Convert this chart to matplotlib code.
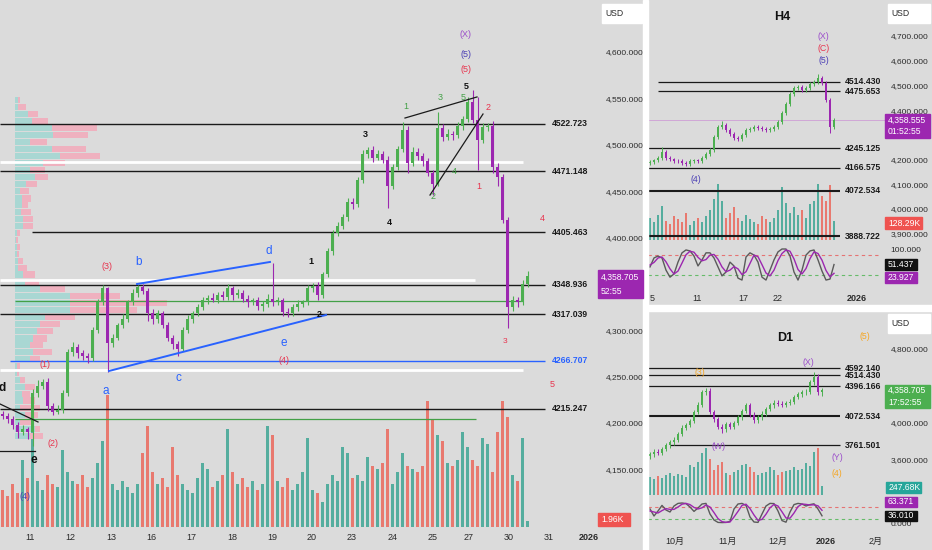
import numpy as np
import matplotlib
matplotlib.use("Agg")
import matplotlib.pyplot as plt
from matplotlib.patches import Rectangle

plt.rcParams['font.family'] = ['Liberation Sans', 'Noto Sans CJK JP', 'DejaVu Sans']

# ------------------------------------------------------------------ DATA
# main chart (XAUUSD ~1h) candles
main_open0 = 4210
main_close = [4207, 4204, 4198, 4190, 4193, 4190, 4232, 4240, 4244, 4218,
              4212, 4214, 4232, 4276, 4282, 4275, 4272, 4270, 4300, 4330,
              4345, 4286, 4292, 4305, 4312, 4330, 4340, 4346, 4342, 4318,
              4312, 4318, 4305, 4292, 4285, 4280, 4300, 4312, 4318, 4325,
              4332, 4335, 4333, 4338, 4336, 4345, 4338, 4340, 4334, 4330,
              4332, 4326, 4328, 4334, 4330, 4332, 4320, 4318, 4325, 4328,
              4330, 4345, 4348, 4338, 4360, 4385, 4405, 4412, 4422, 4438,
              4436, 4462, 4490, 4494, 4486, 4490, 4484, 4455, 4476, 4495,
              4516, 4480, 4492, 4488, 4482, 4470, 4458, 4518, 4508, 4512,
              4510, 4520, 4528, 4546, 4527, 4505, 4519, 4520, 4476, 4465,
              4419, 4325, 4332, 4330, 4350, 4358.705]
main_wick_up = [3, 4, 3, 3, 5, 3, 4, 6, 3, 4, 3, 5, 3, 4, 5, 3, 4, 3, 3, 4,
                4, 2, 4, 3, 5, 3, 4, 3, 4, 3, 5, 4, 3, 4, 3, 3, 3, 4, 3, 3,
                4, 3, 5, 3, 4, 5, 3, 4, 3, 4, 3, 4, 3, 5, 38, 4, 3, 4, 3, 4,
                3, 4, 3, 4, 3, 4, 3, 5, 3, 4, 5, 3, 4, 4, 5, 4, 3, 4, 3, 4,
                8, 4, 5, 4, 3, 4, 3, 17, 4, 5, 3, 4, 3, 5, 13, 24, 4, 3, 6, 4,
                3, 3, 5, 4, 4, 5]
main_wick_dn = [3, 4, 5, 6, 3, 8, 15, 4, 3, 5, 4, 3, 3, 3, 4, 5, 4, 6, 3, 3,
                3, 31, 4, 3, 3, 3, 3, 4, 3, 8, 5, 4, 3, 4, 5, 8, 3, 3, 4, 3,
                3, 4, 3, 4, 3, 3, 5, 3, 4, 5, 3, 4, 5, 3, 4, 3, 5, 4, 3, 4,
                3, 3, 4, 5, 3, 3, 4, 3, 3, 4, 5, 3, 3, 4, 5, 3, 4, 23, 3, 3,
                3, 10, 3, 4, 5, 4, 12, 3, 4, 3, 5, 3, 4, 3, 4, 32, 3, 4, 6, 10,
                4, 23, 4, 5, 3, 3]
main_volume = [12, 10, 14, 11, 22, 16, 33, 15, 12, 17, 14, 13, 25, 18, 15, 14,
               17, 13, 16, 21, 28, 43, 14, 12, 15, 13, 11, 14, 24, 33, 18, 14,
               16, 13, 26, 17, 14, 12, 11, 16, 21, 19, 13, 15, 17, 32, 18, 14,
               16, 13, 15, 12, 14, 33, 30, 15, 13, 16, 12, 14, 18, 29, 12, 11,
               8, 14, 17, 15, 26, 24, 16, 17, 15, 23, 20, 19, 21, 32, 14, 18,
               24, 20, 19, 18, 20, 41, 35, 30, 28, 21, 20, 22, 31, 26, 22, 20,
               29, 27, 18, 31, 41, 36, 17, 15, 29, 1.96]
main_tick_labels = ['11', '12', '13', '16', '17', '18', '19', '20', '23', '24',
                    '25', '27', '30', '31', '2026']
main_yticks = [4600, 4550, 4500, 4450, 4400, 4300, 4250, 4200, 4150]
main_levels = [4522.723, 4471.148, 4405.463, 4348.936, 4317.039, 4266.707, 4215.247]
white_levels = [4481, 4354, 4257]
green_levels = [4331, 4204]

# volume profile (left)
vp_price = [4548, 4541, 4533, 4526, 4518, 4510, 4503, 4495, 4488, 4480, 4473,
            4465, 4458, 4450, 4442, 4435, 4427, 4420, 4412, 4405, 4397, 4390,
            4382, 4375, 4367, 4360, 4352, 4344, 4337, 4329, 4322, 4314, 4307,
            4299, 4291, 4284, 4276, 4269, 4261, 4254, 4246, 4239, 4231, 4224,
            4216, 4208, 4201, 4193, 4186]
vp_up = [3, 3, 13, 17, 37, 38, 15, 37, 45, 28, 15, 20, 11, 5, 7, 7, 6, 8, 8, 2,
         1, 2, 2, 3, 3, 8, 10, 25, 55, 55, 55, 30, 25, 22, 18, 15, 18, 15, 2, 2,
         5, 10, 7, 8, 5, 10, 5, 20, 15]
vp_dn = [2, 8, 10, 16, 45, 35, 17, 34, 40, 22, 15, 13, 11, 9, 9, 6, 10, 10, 10, 3,
         2, 3, 2, 5, 9, 12, 14, 25, 50, 97, 67, 30, 20, 16, 14, 13, 19, 10, 3, 2,
         5, 10, 8, 12, 20, 13, 13, 5, 13]

# H4 panel
h4_open0 = 4185
h4_close = [4190, 4196, 4205, 4230, 4205, 4200, 4195, 4192, 4186, 4182, 4192,
            4196, 4194, 4208, 4222, 4240, 4290, 4330, 4338, 4320, 4305, 4288,
            4282, 4300, 4318, 4325, 4332, 4328, 4322, 4318, 4325, 4330, 4352,
            4388, 4425, 4465, 4488, 4495, 4482, 4490, 4505, 4515, 4530, 4510,
            4440, 4332, 4358.555]
h4_wick_up = [8, 8, 8, 20, 8, 8, 8, 8, 8, 8, 8, 8, 8, 8, 8, 8, 8, 8, 17, 8, 8, 8,
              8, 8, 8, 8, 8, 8, 8, 8, 8, 8, 8, 8, 8, 8, 8, 8, 8, 8, 8, 8, 18, 8,
              8, 8, 8]
h4_wick_dn = [8, 8, 8, 8, 8, 8, 8, 8, 8, 10, 8, 8, 8, 8, 8, 8, 8, 8, 8, 8, 8, 8,
              8, 8, 8, 8, 8, 8, 8, 8, 8, 8, 8, 8, 8, 8, 8, 8, 8, 8, 8, 8, 8, 8,
              8, 25, 8]
h4_volume = [150, 120, 170, 230, 130, 110, 160, 140, 120, 180, 100, 130, 150,
             120, 160, 200, 280, 380, 260, 150, 180, 220, 150, 130, 170, 140,
             120, 110, 160, 140, 120, 150, 200, 360, 250, 180, 220, 170, 200,
             150, 240, 260, 380, 300, 260, 370, 128.29]
h4_k = [44, 72, 78, 72, 34, 12, 22, 59, 88, 97, 94, 78, 47, 66, 88, 88, 72, 44,
        16, 28, 59, 47, 9, 3, 75, 88, 81, 59, 12, 3, 34, 66, 91, 100, 100, 78, 28,
        3, 34, 81, 94, 97, 66, 31, 3, 6, 51.437]
h4_d = [50, 58, 72, 75, 60, 38, 22, 31, 56, 82, 93, 90, 74, 63, 67, 81, 83, 68,
        44, 29, 34, 45, 38, 20, 29, 55, 81, 76, 51, 25, 16, 34, 64, 86, 97, 93,
        69, 36, 22, 39, 70, 91, 86, 65, 33, 13, 23.927]
h4_tick_labels = ['5', '11', '17', '22', '2026']
h4_yticks = [4700, 4600, 4500, 4400, 4200, 4100, 4000, 3900]
h4_levels = [4514.430, 4475.653, 4245.125, 4166.575, 4072.534, 3888.722]

# D1 panel
d1_open0 = 3640
d1_close = [3660, 3690, 3680, 3720, 3760, 3790, 3820, 3880, 3950, 3980, 4020,
            4120, 4200, 4330, 4350, 4120, 4040, 3960, 3930, 3990, 3960, 4000,
            4060, 4130, 4190, 4090, 4030, 4060, 4100, 4150, 4190, 4220, 4210,
            4200, 4215, 4230, 4280, 4310, 4330, 4340, 4440, 4500, 4330, 4358.705]
d1_wick_up = [25, 25, 25, 25, 25, 25, 25, 25, 25, 25, 25, 25, 25, 25, 30, 25,
              25, 25, 25, 25, 25, 25, 25, 25, 30, 25, 25, 25, 25, 25, 25, 25,
              25, 25, 25, 25, 25, 25, 25, 25, 25, 50, 25, 25]
d1_wick_dn = [25, 25, 25, 25, 25, 25, 25, 25, 25, 25, 25, 25, 25, 25, 25, 25,
              25, 25, 40, 25, 25, 25, 25, 25, 25, 25, 25, 25, 25, 25, 25, 25,
              25, 25, 25, 25, 25, 25, 25, 25, 25, 25, 25, 40]
d1_volume = [500, 450, 520, 480, 560, 600, 520, 580, 540, 500, 820, 780, 900,
             1150, 1300, 1000, 700, 820, 900, 600, 560, 620, 700, 820, 850, 780,
             620, 560, 600, 640, 780, 700, 560, 620, 650, 700, 760, 680, 720,
             880, 800, 1180, 1300, 247.68]
d1_k = [70, 35, 60, 88, 65, 55, 85, 98, 100, 97, 80, 58, 75, 95, 98, 45, 15, 3,
        2, 3, 8, 70, 95, 98, 88, 30, 5, 3, 45, 85, 98, 97, 60, 12, 4, 55, 92, 98,
        95, 85, 92, 96, 70, 36.010]
d1_d = [60, 55, 50, 62, 72, 68, 68, 80, 94, 98, 92, 78, 70, 76, 90, 80, 52, 22,
        7, 3, 5, 30, 58, 88, 94, 72, 40, 13, 18, 44, 76, 93, 85, 56, 25, 24, 50,
        82, 95, 93, 90, 91, 86, 63.371]
d1_tick_labels = ['10月', '11月', '12月', '2026', '2月']
d1_yticks = [4800, 4000, 3600]
d1_levels = [4592.140, 4514.430, 4396.166, 4072.534, 3761.501]

# ------------------------------------------------------------------ STYLE
W, H = 932, 550
BG = '#dbdbdb'
UP, DN = '#4caf50', '#9c27b0'
VUP, VDN = '#55ad9e', '#e8796f'
RED, BLUE, GRN = '#e8344e', '#2962ff', '#43a047'
PUR, IND, ORG = '#9b4dca', '#4b3fb5', '#f5a623'
TXT = '#2b2b2b'
TFS = 6.0

fig = plt.figure(figsize=(W / 100, H / 100), dpi=100)
fig.patch.set_facecolor(BG)


def px_axes(x0, y0, x1, y1):
    a = fig.add_axes([x0 / W, 1 - y1 / H, (x1 - x0) / W, (y1 - y0) / H])
    a.set_facecolor('none')
    for s in a.spines.values():
        s.set_visible(False)
    a.set_xticks([])
    a.set_yticks([])
    return a


def candles(a, close, open0, wup, wdn, width, lw):
    c = np.array(close, float)
    o = np.array([open0] + list(close[:-1]), float)
    x = np.arange(len(c))
    hi = np.maximum(o, c) + np.array(wup)
    lo = np.minimum(o, c) - np.array(wdn)
    cols = [UP if cc >= oo else DN for oo, cc in zip(o, c)]
    a.vlines(x, lo, hi, colors=cols, lw=lw, zorder=3)
    body = np.maximum(np.abs(c - o), 0.0001 * c)
    a.bar(x, body, bottom=np.minimum(o, c), width=width, color=cols, zorder=3, linewidth=0)
    return x, o, c


def vol_bars(a, x, o, c, vol, width):
    cols = [VUP if cc >= oo else VDN for oo, cc in zip(o, c)]
    a.bar(x, vol, width=width, color=cols, linewidth=0)


def box(x0, y0, x1, y1, color, lines, tcolor='white', fs=6.2, bold=False):
    fig.add_artist(Rectangle((x0 / W, 1 - y1 / H), (x1 - x0) / W, (y1 - y0) / H,
                             transform=fig.transFigure, color=color, zorder=6))
    n = len(lines)
    for k, s in enumerate(lines):
        yy = y0 + (y1 - y0) * (k + 0.5) / n
        fig.text((x0 + 3) / W, 1 - yy / H, s, color=tcolor, fontsize=fs,
                 va='center', ha='left', zorder=7,
                 fontweight='bold' if bold else 'normal')


# ------------------------------------------------------------------ MAIN
M_XL = (-0.5, 118.9)
M_YL = (4087.6, 4656.1)
axv = px_axes(0, 0, 597, 527)
axv.set_xlim(*M_XL)
axv.set_ylim(0, 172)
axvp = px_axes(0, 0, 597, 527)
axvp.set_xlim(-15, 582)
axvp.set_ylim(*M_YL)
axvp.barh(vp_price, vp_up, height=6.6, left=0, color='#a9d7d3', linewidth=0)
axvp.barh(vp_price, vp_dn, height=6.6, left=vp_up, color='#efb1bf', linewidth=0)

ax = px_axes(0, 0, 597, 527)
ax.set_xlim(*M_XL)
ax.set_ylim(*M_YL)
mx, mo, mc = candles(ax, main_close, main_open0, main_wick_up, main_wick_dn, 0.6, 0.8)
vol_bars(axv, mx, mo, mc, main_volume, 0.5)

# level lines
for lv in white_levels:
    ax.hlines(lv, -0.5, 104.1 if lv != 4354 else 94.5, colors='white', lw=2.0, zorder=1)
for lv, x1 in zip(green_levels, [104.1, 94.7]):
    ax.hlines(lv, 2.5, x1, colors=GRN, lw=0.9, zorder=2)
for lv in main_levels:
    col = BLUE if lv == 4266.707 else '#1a1a1a'
    x0 = 5.9 if lv == 4405.463 else (1.5 if lv == 4266.707 else -0.5)
    ax.hlines(lv, x0, 108.5, colors=col, lw=1.0, zorder=2)
    ax.text(109.9, lv, f"{lv:.3f}", color=col, fontsize=6.2, fontweight='bold',
            va='center', ha='left')

# trendlines (wave structure)
trend_blue = [((26.9, 4349.7), (53.5, 4373.5)), ((21.3, 4255.9), (64.7, 4316.3))]
trend_black = [((80.5, 4528.8), (94.9, 4551.5)), ((85.5, 4445.7), (96.1, 4533.1)),
               ((-0.5, 4220.3), (7.1, 4200.9)), ((-0.5, 4169.6), (6.5, 4169.6))]
for (p0, p1) in trend_blue:
    ax.plot([p0[0], p1[0]], [p0[1], p1[1]], color=BLUE, lw=1.4, zorder=4)
for (p0, p1) in trend_black:
    ax.plot([p0[0], p1[0]], [p0[1], p1[1]], color='#1a1a1a', lw=0.9, zorder=4)

# wave labels
main_labels = [
    (-0.1, 4237.5, 'd', '#111111', 8.5, 'bold'),
    (6.3, 4159.9, 'e', '#111111', 8.5, 'bold'),
    (4.5, 4120.0, '(4)', IND, 6.5, 'normal'),
    (10.1, 4178.2, '(2)', RED, 6.5, 'normal'),
    (8.5, 4263.4, '(1)', RED, 6.5, 'normal'),
    (20.9, 4369.1, '(3)', RED, 6.5, 'normal'),
    (27.3, 4373.5, 'b', BLUE, 8.5, 'normal'),
    (20.7, 4234.3, 'a', BLUE, 8.5, 'normal'),
    (35.1, 4248.3, 'c', BLUE, 8.5, 'normal'),
    (53.3, 4385.3, 'd', BLUE, 8.5, 'normal'),
    (56.3, 4286.1, 'e', BLUE, 8.5, 'normal'),
    (56.3, 4266.7, '(4)', RED, 6.5, 'normal'),
    (61.7, 4373.5, '1', '#111111', 6.5, 'bold'),
    (63.3, 4316.3, '2', '#111111', 6.5, 'bold'),
    (72.5, 4510.5, '3', '#111111', 6.5, 'bold'),
    (77.3, 4416.6, '4', '#111111', 6.5, 'bold'),
    (92.7, 4563.3, '5', '#111111', 6.5, 'bold'),
    (80.7, 4540.7, '1', GRN, 6.5, 'normal'),
    (86.1, 4443.6, '2', GRN, 6.5, 'normal'),
    (87.5, 4550.4, '3', GRN, 6.5, 'normal'),
    (90.3, 4471.6, '4', GRN, 6.5, 'normal'),
    (92.1, 4550.4, '5', GRN, 6.5, 'normal'),
    (92.7, 4619.4, '(X)', PUR, 6.5, 'normal'),
    (92.7, 4597.8, '(5)', IND, 6.5, 'normal'),
    (92.7, 4580.6, '(5)', RED, 6.5, 'normal'),
    (97.1, 4539.6, '2', RED, 6.5, 'normal'),
    (95.3, 4455.4, '1', RED, 6.5, 'normal'),
    (100.5, 4288.2, '3', RED, 6.0, 'normal'),
    (107.9, 4420.9, '4', RED, 6.5, 'normal'),
    (109.9, 4240.8, '5', RED, 6.5, 'normal'),
]
for (xx, yy, s, col, fs, fw) in main_labels:
    ax.text(xx, yy, s, color=col, fontsize=fs, fontweight=fw, ha='center',
            va='center', zorder=5)

ax.yaxis.tick_right()
ax.set_yticks(main_yticks)
ax.set_yticklabels([f"{v:,.3f}" for v in main_yticks])
ax.tick_params(axis='y', length=0, pad=6, labelsize=TFS, labelcolor=TXT)
m_tick_pos = [5.5, 13.5, 21.7, 29.7, 37.7, 45.9, 53.9, 61.9, 69.9, 78.1, 86.1,
              93.3, 101.3, 109.3, 117.3]
ax.set_xticks(m_tick_pos)
ax.set_xticklabels(main_tick_labels)
ax.tick_params(axis='x', length=0, pad=4, labelsize=6.5, labelcolor=TXT)
ax.get_xticklabels()[-1].set_fontweight('bold')

# ------------------------------------------------------------------ H4
H_XL = (-0.5, 58.75)
h4v = px_axes(648, 0, 885, 240)
h4v.set_xlim(*H_XL)
h4v.set_ylim(0, 1620)
h4 = px_axes(648, 0, 885, 245)
h4.set_xlim(*H_XL)
h4.set_ylim(3853.8, 4845.7)
hx, ho, hc = candles(h4, h4_close, h4_open0, h4_wick_up, h4_wick_dn, 0.6, 0.7)
vol_bars(h4v, hx, ho, hc, h4_volume, 0.45)
h4.axhline(h4_close[-1], color='#cf9fd6', lw=0.6, zorder=1)
for lv in h4_levels:
    x0 = 2 if lv > 4400 else -0.5
    lw = 1.5 if lv < 4100 else 0.9
    h4.hlines(lv, x0, 47.5, colors='#1a1a1a', lw=lw, zorder=2)
    h4.text(48.6, lv, f"{lv:.3f}", color='#1a1a1a', fontsize=6.2,
            fontweight='bold', va='center', ha='left')
h4.text(33, 4777, 'H4', fontsize=9, fontweight='bold', ha='center', va='center', color='#111111')
for (xx, yy, s, col) in [(43.25, 4696, '(X)', PUR), (43.5, 4651, '(C)', RED),
                         (43.5, 4599, '(5)', IND), (11.5, 4117, '(4)', IND)]:
    h4.text(xx, yy, s, color=col, fontsize=6.3, ha='center', va='center')
h4.yaxis.tick_right()
h4.set_yticks(h4_yticks)
h4.set_yticklabels([f"{v:,.3f}" for v in h4_yticks])
h4.tick_params(axis='y', length=0, pad=4, labelsize=TFS, labelcolor=TXT)

h4s = px_axes(648, 247, 885, 287)
h4s.set_xlim(*H_XL)
h4s.set_ylim(-18.75, 106.25)
h4s.axhline(80, color='#e57373', lw=0.8, ls=(0, (3, 3)), xmax=0.98)
h4s.axhline(20, color='#66bb6a', lw=0.8, ls=(0, (3, 3)), xmax=0.98)
h4s.plot(hx, h4_k, color='#5a5a5a', lw=1.0)
h4s.plot(hx, h4_d, color=DN, lw=1.0)
h4s.yaxis.tick_right()
h4s.set_yticks([100])
h4s.set_yticklabels(['100.000'])
h4s.tick_params(axis='y', length=0, pad=4, labelsize=TFS, labelcolor=TXT)
h4s.set_xticks([0.5, 11.75, 23.25, 32, 51.75])
h4s.set_xticklabels(h4_tick_labels)
h4s.tick_params(axis='x', length=0, pad=5, labelsize=6.5, labelcolor=TXT)
h4s.get_xticklabels()[-1].set_fontweight('bold')

# ------------------------------------------------------------------ D1
d1v = px_axes(648, 312, 885, 495)
d1v.set_xlim(*H_XL)
d1v.set_ylim(0, 5036)
d1 = px_axes(648, 312, 885, 497)
d1.set_xlim(*H_XL)
d1.set_ylim(3200, 5200)
dx, do, dc = candles(d1, d1_close, d1_open0, d1_wick_up, d1_wick_dn, 0.6, 0.7)
vol_bars(d1v, dx, do, dc, d1_volume, 0.45)
for lv in d1_levels:
    x0 = 5 if lv < 3800 else -0.5
    lw = 1.5 if abs(lv - 4072.534) < 1 else 0.9
    d1.hlines(lv, x0, 47.5, colors='#1a1a1a', lw=lw, zorder=2)
    d1.text(48.6, lv, f"{lv:.3f}", color='#1a1a1a', fontsize=6.2,
            fontweight='bold', va='center', ha='left')
d1.text(33.75, 4919, 'D1', fontsize=9, fontweight='bold', ha='center', va='center', color='#111111')
for (xx, yy, s, col) in [(12.5, 4551, '(3)', ORG), (39.5, 4659, '(X)', PUR),
                         (53.75, 4930, '(5)', ORG), (17.25, 3741, '(W)', PUR),
                         (46.75, 3632, '(Y)', PUR), (46.75, 3459, '(4)', ORG)]:
    d1.text(xx, yy, s, color=col, fontsize=6.3, ha='center', va='center')
d1.yaxis.tick_right()
d1.set_yticks(d1_yticks)
d1.set_yticklabels([f"{v:,.3f}" for v in d1_yticks])
d1.tick_params(axis='y', length=0, pad=4, labelsize=TFS, labelcolor=TXT)

d1s = px_axes(648, 498, 885, 530)
d1s.set_xlim(*H_XL)
d1s.set_ylim(-35, 125)
d1s.axhline(80, color='#e57373', lw=0.8, ls=(0, (3, 3)), xmax=0.98)
d1s.axhline(20, color='#66bb6a', lw=0.8, ls=(0, (3, 3)), xmax=0.98)
d1s.plot(dx, d1_k, color='#5a5a5a', lw=1.0)
d1s.plot(dx, d1_d, color=DN, lw=1.0)
d1s.yaxis.tick_right()
d1s.set_yticks([0])
d1s.set_yticklabels(['0.000'])
d1s.tick_params(axis='y', length=0, pad=4, labelsize=TFS, labelcolor=TXT)
d1s.set_xticks([6.25, 19.5, 32, 44, 56.5])
d1s.set_xticklabels(d1_tick_labels)
d1s.tick_params(axis='x', length=0, pad=5, labelsize=6.5, labelcolor=TXT)
d1s.get_xticklabels()[3].set_fontweight('bold')

# ------------------------------------------------------------------ FRAME / BOXES
fig.add_artist(Rectangle((643 / W, 0), 5 / W, 1, transform=fig.transFigure,
                         color='white', zorder=5))
fig.add_artist(Rectangle((648 / W, 1 - 311 / H), (W - 648) / W, 6 / H,
                         transform=fig.transFigure, color='white', zorder=5))

box(602, 4, 642, 23, 'white', ['USD'], tcolor=TXT)
box(888, 4, 930, 23, 'white', ['USD'], tcolor=TXT)
box(888, 314, 930, 333, 'white', ['USD'], tcolor=TXT)

box(598, 270, 643, 298, DN, [f"{main_close[-1]:,.3f}", '52:55'])
box(598, 513, 630, 526, '#ef5350', [f"{main_volume[-1]:.2f}K"])
box(885, 114, 930, 138, DN, [f"{h4_close[-1]:,.3f}", '01:52:55'])
box(885, 217, 922, 229, '#ef5350', [f"{h4_volume[-1]:.2f}K"])
box(885, 259, 917, 270, '#111111', [f"{h4_k[-1]:.3f}"])
box(885, 272, 917, 283, DN, [f"{h4_d[-1]:.3f}"])
box(885, 385, 930, 408, '#4caf50', [f"{d1_close[-1]:,.3f}", '17:52:55'])
box(886, 482, 921, 493, '#26a69a', [f"{d1_volume[-1]:.2f}K"])
box(885, 497, 917, 507, DN, [f"{d1_d[-1]:.3f}"])
box(885, 511, 917, 521, '#111111', [f"{d1_k[-1]:.3f}"])

fig.savefig('out.png', dpi=100, facecolor=BG)
